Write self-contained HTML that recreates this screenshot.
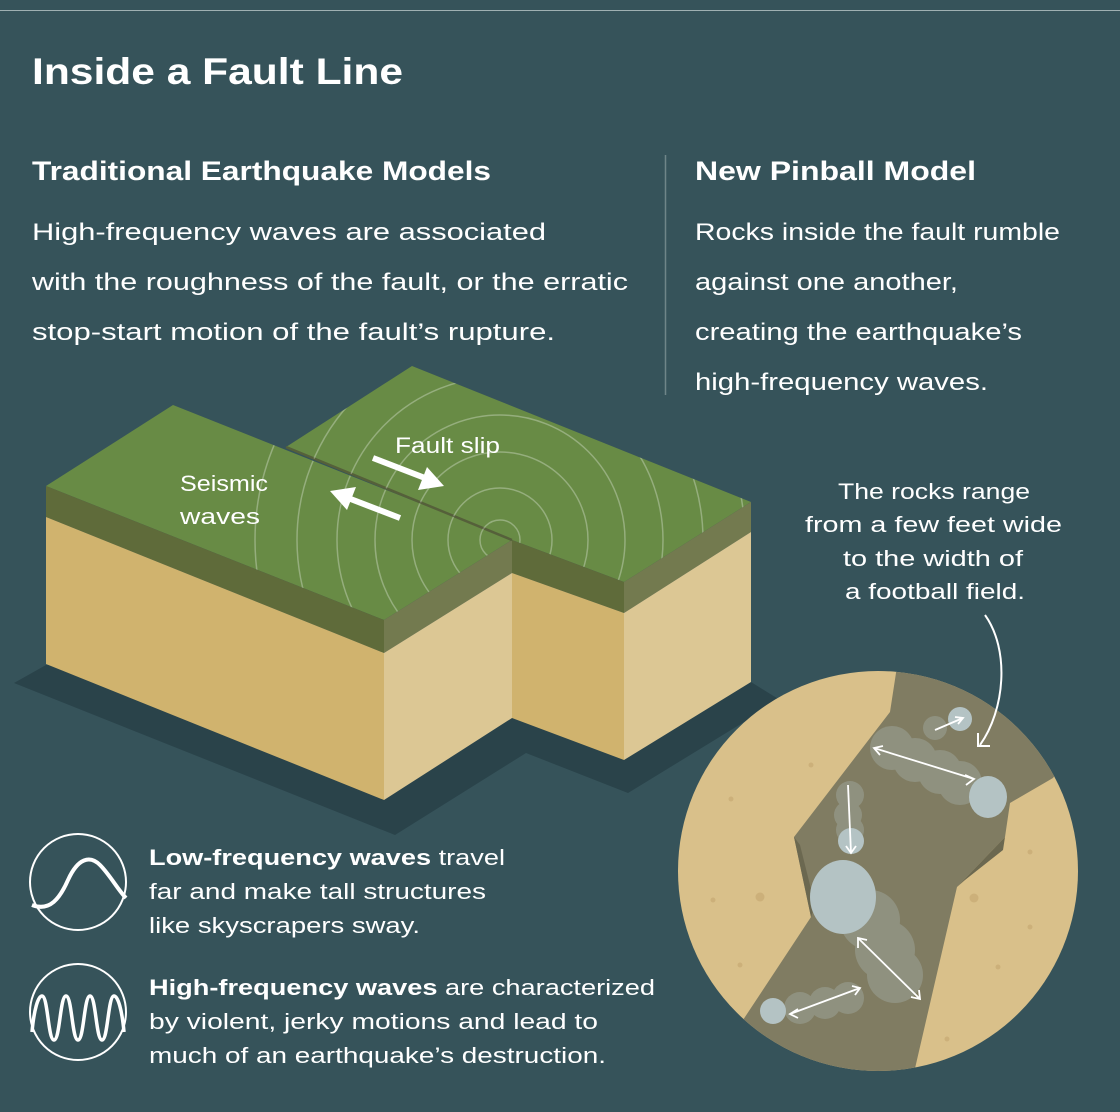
<!DOCTYPE html>
<html><head><meta charset="utf-8"><style>
html,body{margin:0;padding:0;background:#36535a;}
body{width:1120px;height:1112px;overflow:hidden;position:relative;font-family:"Liberation Sans",sans-serif;color:#fff;}
svg{position:absolute;left:0;top:0;}
text{font-family:"Liberation Sans",sans-serif;fill:#fff;}
</style></head><body>
<svg width="1120" height="1112" viewBox="0 0 1120 1112">
<rect width="1120" height="1112" fill="#36535a"/>
<line x1="0" y1="10.5" x2="1120" y2="10.5" stroke="#9fb0b2" stroke-width="1"/>
<text x="32" y="84" font-size="37" font-weight="bold" textLength="371" lengthAdjust="spacingAndGlyphs">Inside a Fault Line</text>
<text x="32" y="180" font-size="27" font-weight="bold" textLength="459" lengthAdjust="spacingAndGlyphs">Traditional Earthquake Models</text>
<g font-size="24.5">
<text x="32" y="240" textLength="514" lengthAdjust="spacingAndGlyphs">High-frequency waves are associated</text>
<text x="32" y="290" textLength="596" lengthAdjust="spacingAndGlyphs">with the roughness of the fault, or the erratic</text>
<text x="32" y="340" textLength="523" lengthAdjust="spacingAndGlyphs">stop-start motion of the fault’s rupture.</text>
</g>
<line x1="665.5" y1="155" x2="665.5" y2="395" stroke="#6f8588" stroke-width="1.5"/>
<text x="695" y="180" font-size="27" font-weight="bold" textLength="281" lengthAdjust="spacingAndGlyphs">New Pinball Model</text>
<g font-size="24.5">
<text x="695" y="240" textLength="365" lengthAdjust="spacingAndGlyphs">Rocks inside the fault rumble</text>
<text x="695" y="290" textLength="263" lengthAdjust="spacingAndGlyphs">against one another,</text>
<text x="695" y="340" textLength="327" lengthAdjust="spacingAndGlyphs">creating the earthquake’s</text>
<text x="695" y="390" textLength="293" lengthAdjust="spacingAndGlyphs">high-frequency waves.</text>
</g>

<polygon points="14,683 46,665 751,682 780,700 628,793 526,753 395,835" fill="#2a434a"/>
<defs>
<clipPath id="tops"><polygon points="46,486 173,405 512,540 384,620"/><polygon points="286,447 412,366 751,502 624,582 512,540"/></clipPath>
<clipPath id="circ"><circle cx="878" cy="871" r="200"/></clipPath>
</defs>
<polygon points="286,447 412,366 751,502 624,582 512,540" fill="#688b45"/>
<polygon points="512,540 624,582 624,613 512,573" fill="#5f6b3a"/>
<polygon points="512,573 624,613 624,760 512,718" fill="#d0b36e"/>
<polygon points="624,582 751,502 751,532 624,613" fill="#737a4f"/>
<polygon points="624,613 751,532 751,682 624,760" fill="#dcc794"/>
<polygon points="46,486 173,405 512,540 384,620" fill="#688b45"/>
<polygon points="46,486 384,620 384,653 46,517" fill="#5f6b3a"/>
<polygon points="46,517 384,653 384,800 46,664" fill="#d0b36e"/>
<polygon points="384,620 512,540 512,573 384,653" fill="#737a4f"/>
<polygon points="384,653 512,573 512,718 384,800" fill="#dcc794"/>
<line x1="286" y1="447" x2="512" y2="540" stroke="#55603a" stroke-width="2.5"/>
<g clip-path="url(#tops)" fill="none" stroke="#fff" stroke-opacity="0.3" stroke-width="1.5">
<circle cx="500" cy="540" r="20"/><circle cx="500" cy="540" r="52"/><circle cx="500" cy="540" r="88"/><circle cx="500" cy="540" r="125"/><circle cx="500" cy="540" r="163"/><circle cx="500" cy="540" r="203"/><circle cx="500" cy="540" r="245"/>
</g>
<text x="395" y="453" font-size="22" textLength="105" lengthAdjust="spacingAndGlyphs">Fault slip</text>
<text x="180" y="491" font-size="22" textLength="88" lengthAdjust="spacingAndGlyphs">Seismic</text>
<text x="180" y="524" font-size="22" textLength="80" lengthAdjust="spacingAndGlyphs">waves</text>
<line x1="373" y1="458" x2="425" y2="478" stroke="#fff" stroke-width="6"/>
<polygon points="444,486 418,490 427,467" fill="#fff"/>
<line x1="400" y1="518" x2="348" y2="498" stroke="#fff" stroke-width="6"/>
<polygon points="330,491 356,487 347,510" fill="#fff"/>

<g font-size="22">
<text x="838" y="499" textLength="192" lengthAdjust="spacingAndGlyphs">The rocks range</text>
<text x="805" y="532" textLength="257" lengthAdjust="spacingAndGlyphs">from a few feet wide</text>
<text x="843" y="566" textLength="180" lengthAdjust="spacingAndGlyphs">to the width of</text>
<text x="845" y="599" textLength="180" lengthAdjust="spacingAndGlyphs">a football field.</text>
</g>
<circle cx="878" cy="871" r="200" fill="#d9c08a"/>
<g clip-path="url(#circ)">
<polygon points="898,660 890,712 794,837 811,917 743,1020 700,1090 910,1090 957,887 1005,837 1010,803 1053,778 1080,740 1080,660" fill="#807c62"/>
<polygon points="794,837 811,917 815,905 800,845" fill="#6b6850"/>
<polygon points="1005,837 957,887 965,880 1003,850" fill="#6b6850"/>
<g fill="#ccb07a"><circle cx="811" cy="765" r="2.5"/><circle cx="731" cy="799" r="2.5"/><circle cx="760" cy="897" r="4.5"/><circle cx="713" cy="900" r="2.5"/><circle cx="740" cy="965" r="2.5"/><circle cx="974" cy="898" r="4.5"/><circle cx="1030" cy="852" r="2.5"/><circle cx="1030" cy="927" r="2.5"/><circle cx="998" cy="967" r="2.5"/><circle cx="947" cy="1039" r="2.5"/></g>
<g fill="#b4c3c4">
<g opacity="0.3"><circle cx="892" cy="748" r="22"/><circle cx="915" cy="760" r="22"/><circle cx="940" cy="772" r="22"/><circle cx="960" cy="783" r="22"/><circle cx="850" cy="795" r="14"/><circle cx="848" cy="815" r="14"/><circle cx="850" cy="830" r="14"/><circle cx="870" cy="920" r="30"/><circle cx="885" cy="950" r="30"/><circle cx="895" cy="975" r="28"/><circle cx="800" cy="1008" r="16"/><circle cx="825" cy="1003" r="16"/><circle cx="848" cy="998" r="16"/><circle cx="935" cy="728" r="12"/></g>
<ellipse cx="988" cy="797" rx="19" ry="21"/>
<circle cx="851" cy="841" r="13"/>
<ellipse cx="843" cy="897" rx="33" ry="37"/>
<circle cx="773" cy="1011" r="13"/>
<circle cx="960" cy="719" r="12"/>
</g>
<g stroke="#fff" stroke-width="1.8" fill="none">
<line x1="874" y1="748" x2="974" y2="779"/><polyline points="883,746 874,748 880,755"/><polyline points="965,775 974,779 966,785"/>
<line x1="848" y1="785" x2="851" y2="853"/><polyline points="846,846 851,853 856,846"/>
<line x1="858" y1="938" x2="920" y2="999"/><polyline points="858,948 858,938 867,940"/><polyline points="919,990 920,999 911,997"/>
<line x1="790" y1="1014" x2="860" y2="988"/><polyline points="798,1009 790,1014 798,1018"/><polyline points="852,986 860,988 855,995"/>
<line x1="935" y1="730" x2="963" y2="718"/><polyline points="955,717 963,718 958,724"/>
</g>
</g>
<path d="M985,615 C1010,650 1005,710 980,745" stroke="#fff" stroke-width="2" fill="none"/>
<polyline points="978,733 978,746 990,746" stroke="#fff" stroke-width="2" fill="none"/>

<circle cx="78" cy="882" r="48" fill="none" stroke="#fff" stroke-width="2"/>
<path d="M32,905 C50,912 60,898 68,880 C78,858 90,855 100,865 C110,875 118,890 126,898" fill="none" stroke="#fff" stroke-width="4"/>
<circle cx="78" cy="1012" r="48" fill="none" stroke="#fff" stroke-width="2"/>
<path d="M32,1032 C34,1010 38,996 42,996 C48,996 48,1040 54,1040 C60,1040 60,996 66,996 C72,996 72,1040 78,1040 C84,1040 84,996 90,996 C96,996 96,1040 102,1040 C108,1040 108,996 114,996 C118,996 122,1010 124,1032" fill="none" stroke="#fff" stroke-width="3.5"/>
<g font-size="22.5">
<text x="149" y="865" textLength="356" lengthAdjust="spacingAndGlyphs"><tspan font-weight="bold">Low-frequency waves</tspan> travel</text>
<text x="149" y="899" textLength="337" lengthAdjust="spacingAndGlyphs">far and make tall structures</text>
<text x="149" y="933" textLength="271" lengthAdjust="spacingAndGlyphs">like skyscrapers sway.</text>
<text x="149" y="995" textLength="506" lengthAdjust="spacingAndGlyphs"><tspan font-weight="bold">High-frequency waves</tspan> are characterized</text>
<text x="149" y="1029" textLength="449" lengthAdjust="spacingAndGlyphs">by violent, jerky motions and lead to</text>
<text x="149" y="1063" textLength="457" lengthAdjust="spacingAndGlyphs">much of an earthquake’s destruction.</text>
</g>
</svg>
</body></html>
